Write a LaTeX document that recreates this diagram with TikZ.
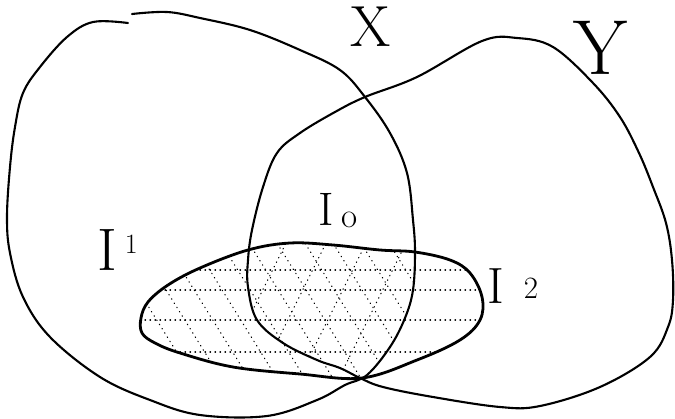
\documentclass[tikz,border=0pt]{standalone}
\begin{document}
\begin{tikzpicture}[x=1pt,y=-1pt,
  setline/.style={line width=2.1pt, line join=round, line cap=round},
  ellline/.style={line width=2.8pt, line join=round},
  hatch/.style={line width=1.1pt, dash pattern=on 0.6pt off 4.4pt, line cap=round},
  lab/.style={inner sep=0pt}]
\useasboundingbox (0,0) rectangle (675,418);

% saved regions
\path[save path=\ellp] plot[smooth cycle, tension=0.6] coordinates {
  (142,333) (141,318) (148,302) (168,285) (200,268) (248,250) (290,243) (333,245)
  (380,250) (415,252) (450,260) (470,273) (482,297) (480,320) (460,340)
  (417,360) (362,378) (300,374) (233,367) (180,353) (155,343)};
\path[save path=\xp] plot[smooth cycle, tension=0.6] coordinates {
  (132,14) (167,12) (200,18) (250,30) (300,50) (340,70) (365,97) (390,133)
  (407,173) (413,220) (415,252) (413,290) (405,318) (390,347) (367,375)
  (345,385) (317,400) (267,416) (200,415) (150,400) (100,377) (50,337)
  (23,297) (10,253) (7,217) (10,167) (15,127) (23,93) (40,67) (67,37)
  (93,22)};
\path[save path=\yp] plot[smooth cycle, tension=0.6] coordinates {
  (360,378) (383,387) (433,397) (500,407) (540,406) (600,387) (650,357)
  (668,327) (673,300) (672,260) (666,223) (653,187) (639,153) (620,117)
  (593,83) (553,47) (517,38) (482,41) (417,77) (365,97) (335,112)
  (300,133) (277,153) (263,187) (252,230) (248,260) (248,287) (257,320)
  (283,343) (317,360) (340,368)};

% hatching inside I
\begin{scope}
  \clip[use path=\ellp];
  \foreach \yy in {270,290,320,352} \draw[hatch] (130,\yy) -- (500,\yy);
  \begin{scope}
    \clip[use path=\xp];
    \foreach \xx in {104,132,...,420} \draw[hatch] (\xx,235) -- ++(90,145);
  \end{scope}
  \begin{scope}
    \clip[use path=\xp];
    \clip[use path=\yp];
    \foreach \xx in {290,330,...,490} \draw[hatch] (\xx,235) -- ++(-72,145);
  \end{scope}
\end{scope}

% the three curves
\draw[setline] plot[smooth, tension=0.6] coordinates {
  (132,14) (167,12) (200,18) (250,30) (300,50) (340,70) (365,97) (390,133)
  (407,173) (413,220) (415,252) (413,290) (405,318) (390,347) (367,375)
  (345,385) (317,400) (267,416) (200,415) (150,400) (100,377) (50,337)
  (23,297) (10,253) (7,217) (10,167) (15,127) (23,93) (40,67) (67,37)
  (93,22) (128,23)};
\draw[setline, use path=\yp];
\draw[ellline, use path=\ellp];

% labels
\node[lab] (labX) at (371,27) {\fontsize{58}{58}\selectfont X};
\node[lab] (labY) at (601,48) {\fontsize{78}{78}\selectfont Y};
\node[lab, anchor=base west] (labI1) at (97,270)
  {\fontsize{60}{60}\selectfont I\kern8pt\raisebox{17pt}{\fontsize{28}{28}\selectfont 1}};
\node[lab, anchor=base west] (labI0) at (318,225)
  {\fontsize{47}{47}\selectfont I\kern8pt\raisebox{-2pt}{\fontsize{35}{35}\selectfont o}};
\node[lab, anchor=base west] (labI2) at (487,303)
  {\fontsize{51}{51}\selectfont I\kern20pt\raisebox{5pt}{\fontsize{31}{31}\selectfont 2}};
\end{tikzpicture}
\end{document}
